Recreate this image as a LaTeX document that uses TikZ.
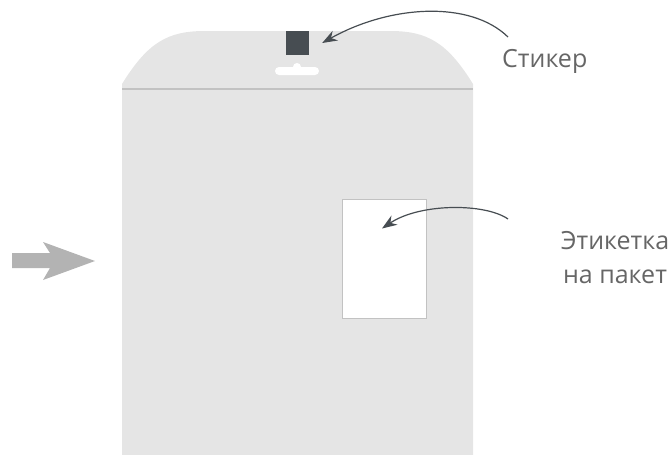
\documentclass[tikz,border=0pt]{standalone}
\usepackage{fontspec}
\setmainfont{Open Sans}
\usepackage{xcolor}
\usepackage{tikz}
\usetikzlibrary{arrows.meta,positioning}

\definecolor{bagfill}{HTML}{E5E5E5}
\definecolor{seam}{HTML}{C2C2C2}
\definecolor{darkgrey}{HTML}{474D52}
\definecolor{textgrey}{HTML}{666666}
\definecolor{arrowgrey}{HTML}{B3B3B3}

\begin{document}
\begin{tikzpicture}[
    x=1pt, y=-1pt,
    caption/.style={font=\fontsize{25}{34}\selectfont, text=textgrey,
                    inner sep=0pt, align=center},
    sticker/.style={fill=darkgrey, minimum width=23pt, minimum height=24pt,
                    inner sep=0pt},
    labelbox/.style={draw=seam, fill=white, line width=1pt,
                     minimum width=84pt, minimum height=119pt, inner sep=0pt},
    pointer/.style={-{Stealth[length=15pt, width=11pt]}, line width=1.2pt,
                    draw=darkgrey}
  ]
    \useasboundingbox (0,0) rectangle (672,455);

    % bag body
    \fill[bagfill] (122,455) -- (122,84)
      .. controls (148,42) and (168,31) .. (205,31) -- (390,31)
      .. controls (427,31) and (447,42) .. (473,84) -- (473,455) -- cycle;
    \draw[seam, line width=1.5pt] (122,89) -- (473,89);

    % hang hole
    \fill[white, rounded corners=4pt] (275,67) rectangle (319,75);
    \fill[white] (297,67) circle (4pt);

    \node[sticker]  (stk)   at (297.5,43)  {};
    \node[labelbox] (label) at (384,258.5) {};

    \node[caption, anchor=base west] (stktext) at (502,67) {Стикер};
    \node[caption] (labeltext) at (615,258) {Этикетка\\на пакет};

    \coordinate (stkfrom)   at (508,37);
    \coordinate (labelfrom) at (508,219);

    \draw[pointer] (stkfrom) .. controls (470,0) and (390,5) .. ([xshift=13pt]stk.east);
    \draw[pointer] (labelfrom) .. controls (485,203) and (420,203) .. ([xshift=-2pt,yshift=30pt]label.center);

    % feed direction
    \fill[arrowgrey] (12,253) -- (50,253) -- (43,242) -- (95,261)
      -- (43,280) -- (50,268) -- (12,268) -- cycle;
  \end{tikzpicture}
\end{document}
